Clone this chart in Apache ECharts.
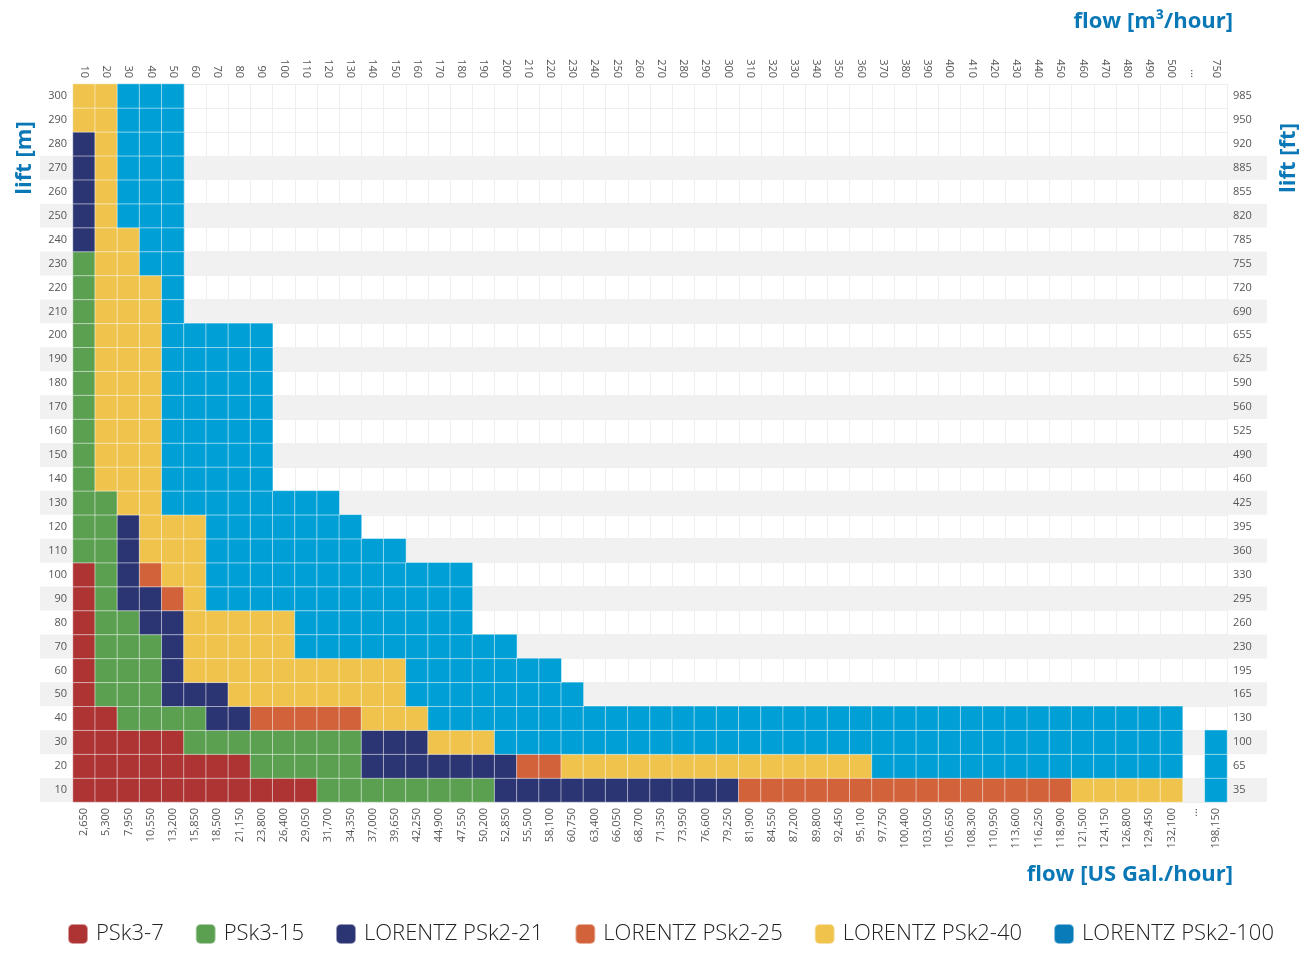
<!DOCTYPE html>
<html>
<head>
<meta charset="utf-8">
<title>Pump selection chart</title>
<script src="https://cdn.jsdelivr.net/npm/echarts@6.0.0/dist/echarts.min.js"></script>
<style>
html, body { margin: 0; padding: 0; background: #fff; }
#main { width: 1312px; height: 973px; }
</style>
</head>
<body>
<div id="main"></div>
<script>
// flow columns (top axis, m3/hour) and the same flow in US gallons (bottom axis)
var flowM3 = ['10','20','30','40','50','60','70','80','90','100',
  '110','120','130','140','150','160','170','180','190','200',
  '210','220','230','240','250','260','270','280','290','300',
  '310','320','330','340','350','360','370','380','390','400',
  '410','420','430','440','450','460','470','480','490','500','...','750'];
var flowGal = ['2,650','5,300','7,950','10,550','13,200','15,850','18,500','21,150','23,800','26,400',
  '29,050','31,700','34,350','37,000','39,650','42,250','44,900','47,550','50,200','52,850',
  '55,500','58,100','60,750','63,400','66,050','68,700','71,350','73,950','76,600','79,250',
  '81,900','84,550','87,200','89,800','92,450','95,100','97,750','100,400','103,050','105,650',
  '108,300','110,950','113,600','116,250','118,900','121,500','124,150','126,800','129,450','132,100',
  '...','198,150'];

// lift rows, bottom to top
var liftM = ['10','20','30','40','50','60','70','80','90','100',
  '110','120','130','140','150','160','170','180','190','200',
  '210','220','230','240','250','260','270','280','290','300'];
var liftFt = ['35','65','100','130','165','195','230','260','295','330',
  '360','395','425','460','490','525','560','590','625','655',
  '690','720','755','785','820','855','885','920','950','985'];

// striped rows
var bandLifts = ['10','30','50','70','90','110','130','150','170','190','210','230','250','270'];

var pumpCodes = ['R', 'G', 'N', 'O', 'Y', 'B'];
var pumpNames = ['PSk3-7', 'PSk3-15', 'LORENTZ PSk2-21', 'LORENTZ PSk2-25', 'LORENTZ PSk2-40', 'LORENTZ PSk2-100'];
var pumpColors = ['#ae3434', '#5aa050', '#2b3573', '#d2623a', '#efc34c', '#00a0d6'];
var legendColors = ['#ae3434', '#5aa050', '#2b3573', '#d2623a', '#efc34c', '#0a7bb9'];

// runs of cells per lift row (same order as liftM): code + number of columns, '-' = empty
var cellRuns = [
  'R11 G8 N11 O15 Y5 -1 B1',   // 10
  'R8 G5 N7 O2 Y14 B14 -1 B1', // 20
  'R5 G8 N3 Y3 B31 -1 B1',     // 30
  'R2 G4 N2 O5 Y3 B34',        // 40
  'R1 G3 N3 Y8 B8',            // 50
  'R1 G3 N1 Y10 B7',           // 60
  'R1 G3 N1 Y5 B10',           // 70
  'R1 G2 N2 Y5 B8',            // 80
  'R1 G1 N2 O1 Y1 B12',        // 90
  'R1 G1 N1 O1 Y2 B12',        // 100
  'G2 N1 Y3 B9',               // 110
  'G2 N1 Y3 B7',               // 120
  'G2 Y2 B8',                  // 130
  'G1 Y3 B5',                  // 140
  'G1 Y3 B5',                  // 150
  'G1 Y3 B5',                  // 160
  'G1 Y3 B5',                  // 170
  'G1 Y3 B5',                  // 180
  'G1 Y3 B5',                  // 190
  'G1 Y3 B5',                  // 200
  'G1 Y3 B1',                  // 210
  'G1 Y3 B1',                  // 220
  'G1 Y2 B2',                  // 230
  'N1 Y2 B2',                  // 240
  'N1 Y1 B3',                  // 250
  'N1 Y1 B3',                  // 260
  'N1 Y1 B3',                  // 270
  'N1 Y1 B3',                  // 280
  'Y2 B3',                     // 290
  'Y2 B3'                      // 300
];

var cells = pumpCodes.map(function () { return []; });
cellRuns.forEach(function (row, yi) {
  var col = 0;
  row.split(' ').forEach(function (tok) {
    var p = pumpCodes.indexOf(tok[0]);
    var n = parseInt(tok.slice(1), 10);
    for (var k = 0; k < n; k++) {
      if (p >= 0) cells[p].push([col, yi, 1]);
      col++;
    }
  });
});

var myChart = echarts.init(document.getElementById('main'));

var labelStyle = { fontSize: 11, color: '#555', fontFamily: 'Open Sans' };
var titleColor = '#0a78b6';

var series = pumpNames.map(function (name, i) {
  return {
    name: name,
    type: 'heatmap',
    xAxisIndex: 0,
    yAxisIndex: 0,
    data: cells[i],
    itemStyle: { color: pumpColors[i], borderColor: 'rgba(255,255,255,0.5)', borderWidth: 1 },
    emphasis: { disabled: true },
    z: 2
  };
});

// grey stripes behind the rows
series.push({
  type: 'bar',
  xAxisIndex: 3,
  yAxisIndex: 3,
  data: liftM.map(function (l) { return bandLifts.indexOf(l) >= 0 ? 1 : 0; }),
  barWidth: '100%',
  itemStyle: { color: '#f1f1f1' },
  silent: true,
  z: 1
});

myChart.setOption({
  animation: false,
  textStyle: { fontFamily: 'Open Sans' },
  grid: [
    { left: 73, right: 85, top: 84, bottom: 171 },
    { left: 73, right: 85, top: 84, bottom: 171 },
    { left: 40, right: 45, top: 84, bottom: 171 }
  ],
  xAxis: [
    { type: 'category', gridIndex: 0, position: 'bottom', data: flowGal, z: 5,
      axisLine: { show: false }, axisTick: { show: false }, splitLine: { show: false },
      axisLabel: Object.assign({ rotate: 90, interval: 0, margin: 6 }, labelStyle) },
    { type: 'category', gridIndex: 0, position: 'top', data: flowM3, z: 5,
      axisLine: { show: false }, axisTick: { show: false }, splitLine: { show: false },
      axisLabel: Object.assign({ rotate: 90, interval: 0, margin: 6 }, labelStyle) },
    { type: 'category', gridIndex: 1, data: flowM3, z: 0,
      axisLine: { show: false }, axisTick: { show: false }, axisLabel: { show: false },
      splitLine: { show: true, interval: 0, lineStyle: { color: '#eeeeee', width: 1 } } },
    { type: 'value', gridIndex: 2, min: 0, max: 1, show: false }
  ],
  yAxis: [
    { type: 'category', gridIndex: 0, position: 'left', data: liftM, z: 5,
      axisLine: { show: false }, axisTick: { show: false }, splitLine: { show: false },
      axisLabel: Object.assign({ interval: 0, margin: 6 }, labelStyle) },
    { type: 'category', gridIndex: 0, position: 'right', data: liftFt, z: 5,
      axisLine: { show: false }, axisTick: { show: false }, splitLine: { show: false },
      axisLabel: Object.assign({ interval: 0, margin: 6 }, labelStyle) },
    { type: 'category', gridIndex: 1, data: liftM, z: 0,
      axisLine: { show: false }, axisTick: { show: false }, axisLabel: { show: false },
      splitLine: { show: true, interval: 0, lineStyle: { color: '#eeeeee', width: 1 } } },
    { type: 'category', gridIndex: 2, data: liftM, show: false }
  ],
  legend: {
    left: 62,
    top: 918,
    icon: 'roundRect',
    itemWidth: 20,
    itemHeight: 20,
    itemGap: 31,
    selectedMode: false,
    textStyle: { fontSize: 22, color: '#222', fontFamily: 'Open Sans', fontWeight: 300, padding: [0, 0, 0, 3] },
    data: pumpNames.map(function (n, i) { return { name: n, itemStyle: { color: legendColors[i] } }; })
  },
  graphic: [
    { type: 'text', right: 79, top: 11,
      style: { text: 'flow [m³/hour]', fill: titleColor, font: 'bold 22px "Open Sans"' } },
    { type: 'text', right: 79, top: 864,
      style: { text: 'flow [US Gal./hour]', fill: titleColor, font: 'bold 22px "Open Sans"' } },
    { type: 'text', x: 25, y: 158, rotation: Math.PI / 2,
      style: { text: 'lift [m]', fill: titleColor, font: 'bold 22px "Open Sans"', align: 'center', verticalAlign: 'middle' } },
    { type: 'text', x: 1289, y: 158, rotation: Math.PI / 2,
      style: { text: 'lift [ft]', fill: titleColor, font: 'bold 22px "Open Sans"', align: 'center', verticalAlign: 'middle' } }
  ],
  series: series
});
</script>
</body>
</html>
